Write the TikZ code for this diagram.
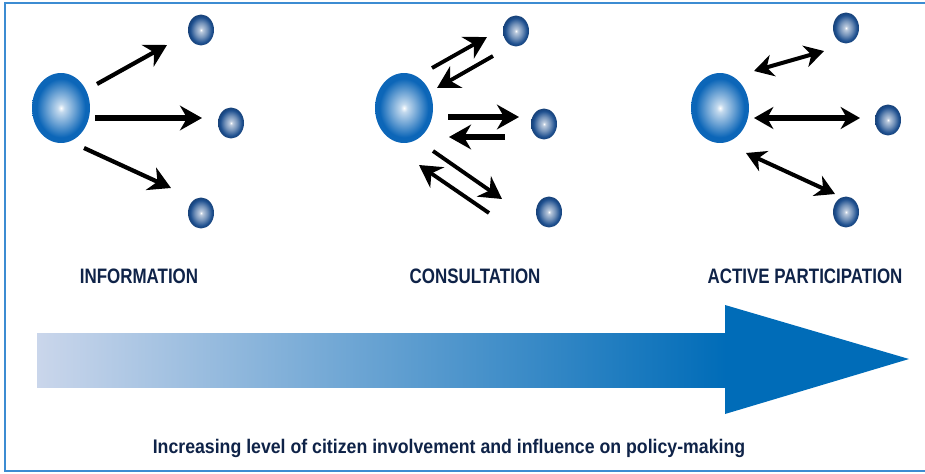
\documentclass[tikz,border=0pt]{standalone}
\usepackage{fontspec}
\usepackage{xcolor}
\usetikzlibrary{arrows.meta,shapes.geometric}
\newfontfamily\lblfont[FakeStretch=0.81]{Liberation Sans}
\newfontfamily\capfont[FakeStretch=0.9]{Liberation Sans}

\definecolor{framebl}{RGB}{60,140,210}
\definecolor{navy}{RGB}{15,35,72}
\definecolor{orbA}{RGB}{12,102,184}
\definecolor{orbB}{RGB}{28,78,142}
\definecolor{barlo}{RGB}{202,214,235}
\definecolor{barmid}{RGB}{122,158,212}
\definecolor{barhi}{RGB}{0,108,184}

% edge of the shape sits at 25bp
\pgfdeclareradialshading{bigorb}{\pgfpoint{0bp}{0bp}}{%
  color(0bp)=(white); color(3bp)=(orbA!25!white); color(12bp)=(orbA!62!white);
  color(21bp)=(orbA); color(25bp)=(orbA); color(50bp)=(orbA)}
\pgfdeclareradialshading{smallorb}{\pgfpoint{0bp}{0bp}}{%
  color(0bp)=(white); color(3bp)=(orbB!30!white); color(12bp)=(orbB!62!white);
  color(21bp)=(orbB); color(25bp)=(orbB!85!black); color(50bp)=(orbB!85!black)}

\tikzstyle{orb}=[ellipse,inner sep=0pt,shade,shading=bigorb,
  minimum width=1.16cm,minimum height=1.4cm]
\tikzstyle{dot}=[ellipse,inner sep=0pt,shade,shading=smallorb,
  minimum width=0.52cm,minimum height=0.62cm]
\tikzstyle{arr}=[-{Stealth[length=12.5pt,width=14pt,inset=4pt]},line width=2.4pt]
\tikzstyle{darr}=[{Stealth[length=11pt,width=12.5pt,inset=3.5pt]}-{Stealth[length=11pt,width=12.5pt,inset=3.5pt]},line width=2.3pt]
\tikzstyle{stage}=[font=\lblfont\bfseries\fontsize{11.9}{12}\selectfont,text=navy,inner sep=0pt]

\begin{document}
\begin{tikzpicture}[x=0.02cm,y=-0.02cm]
\useasboundingbox (0,0) rectangle (925,473);
% frame, open on the right
\draw[framebl,line width=1.1pt] (930,3) -- (5,3) -- (5,471) -- (930,471);

% information: one way
\node[orb] (inf) at (61,108) {};
\node[dot] (inf1) at (201,30) {};
\node[dot] (inf2) at (231,123) {};
\node[dot] (inf3) at (201,213) {};
\coordinate (ia) at (97,84); \coordinate (ib) at (167,45);
\coordinate (ic) at (95,118); \coordinate (id) at (202,118);
\coordinate (ie) at (84,148); \coordinate (if) at (171,188);
\draw[arr] (ia) -- (ib);
\draw[arr,line width=3.2pt] (ic) -- (id);
\draw[arr] (ie) -- (if);

% consultation: two ways
\node[orb] (con) at (404,108) {};
\node[dot] (con1) at (516,31) {};
\node[dot] (con2) at (544,124) {};
\node[dot] (con3) at (549,212) {};
\coordinate (ca) at (432,68); \coordinate (cb) at (487,37);
\coordinate (cc) at (493,56); \coordinate (cd) at (437,88);
\coordinate (ce) at (448,117); \coordinate (cf) at (519,117);
\coordinate (cg) at (505,137); \coordinate (ch) at (449,137);
\coordinate (ci) at (433,151); \coordinate (cj) at (502,199);
\coordinate (ck) at (489,213); \coordinate (cl) at (419,165);
\draw[arr,line width=2.2pt] (ca) -- (cb);
\draw[arr,line width=2.2pt] (cc) -- (cd);
\draw[arr,line width=3.4pt] (ce) -- (cf);
\draw[arr,line width=3.4pt] (cg) -- (ch);
\draw[arr,line width=2.2pt] (ci) -- (cj);
\draw[arr,line width=2.2pt] (ck) -- (cl);

% active participation: both ways at once
\node[orb] (act) at (720,108) {};
\node[dot] (act1) at (846,28) {};
\node[dot] (act2) at (888,120) {};
\node[dot] (act3) at (846,212) {};
\coordinate (pa) at (754,71); \coordinate (pb) at (824,51);
\coordinate (pc) at (754,118); \coordinate (pd) at (860,118);
\coordinate (pe) at (746,153); \coordinate (pf) at (835,194);
\draw[darr] (pa) -- (pb);
\draw[darr,line width=3pt] (pc) -- (pd);
\draw[darr] (pe) -- (pf);

\node[stage] (linf) at (139,276) {INFORMATION};
\node[stage] (lcon) at (475,276) {CONSULTATION};
\node[stage] (lact) at (805,276) {ACTIVE PARTICIPATION};

% the big arrow
\shade[left color=barlo,middle color=barmid,right color=barhi]
  (37,333) rectangle (726,387);
\fill[barhi] (725,305) -- (909,359) -- (725,414) -- cycle;
\node[stage,font=\capfont\bfseries\fontsize{11.2}{12}\selectfont,anchor=base]
  (lscale) at (449,453) {Increasing level of citizen involvement and influence on policy-making};
\end{tikzpicture}
\end{document}
